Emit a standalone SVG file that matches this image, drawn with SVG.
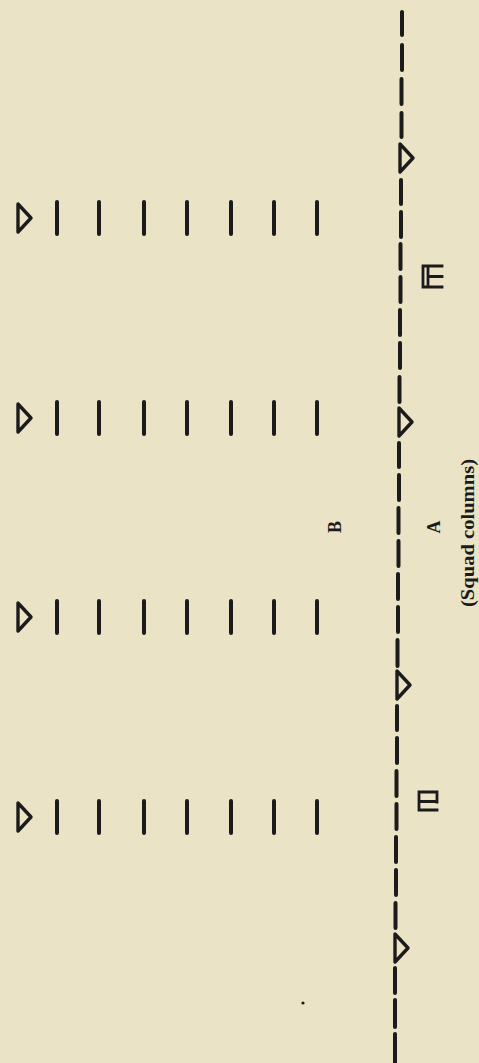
<svg xmlns="http://www.w3.org/2000/svg" width="479" height="1063" viewBox="0 0 479 1063">
<style>
.ink{stroke:#1b1b1b;stroke-width:4;stroke-linecap:round;fill:none}
.tri{stroke:#1b1b1b;stroke-width:3.4;stroke-linejoin:round;fill:none}
.sym{stroke:#1b1b1b;stroke-width:2.8;fill:none;stroke-linecap:square}
.lbl{font-family:"Liberation Serif",serif;font-weight:bold;fill:#1b1b1b}
</style>
<defs>
<path id="tr" d="M0,-14 L13,0 L0,14 Z"/>
<g id="col">
<use href="#tr" class="tri" x="18" y="0"/>
<path class="ink" d="M57,-16v32M99,-16v32M144,-16v32M187,-16v32M231,-16v32M274,-16v32M317,-16v32"/>
</g>
</defs>
<rect width="479" height="1063" fill="#ebe3c6"/>
<g id="column1" transform="translate(0,218)"><use href="#col"/></g>
<g id="column2" transform="translate(0,418)"><use href="#col"/></g>
<g id="column3" transform="translate(0,617)"><use href="#col"/></g>
<g id="column4" transform="translate(0,817)"><use href="#col"/></g>
<g id="connectors">
<path class="ink" d="M402,12v23M402,45v25M401.5,79v25M401.5,113v24
M401,180v24M401,212v25M400.5,244v25M400.5,277v25M400,310v25M400,343v25M399.5,377v25
M399,443v24M399,475v25M398.5,508v25M398.5,541v25M398,574v25M398,607v25M397.5,640v26
M397,706v24M397,738v25M396.5,771v25M396.5,804v25M396,837v25M396,870v25M395.5,903v25
M395,968v25M395,1000v27M395,1034v30"/>
</g>
<g id="guide1"><use href="#tr" class="tri" x="400" y="158"/></g>
<g id="guide2"><use href="#tr" class="tri" x="399" y="422"/></g>
<g id="guide3"><use href="#tr" class="tri" x="397" y="685"/></g>
<g id="guide4"><use href="#tr" class="tri" x="395" y="948"/></g>
<g id="leader1"><path class="sym" d="M423,266v21M428,266v21M423,266h19M423,287h19M428,276.5h14"/></g>
<g id="leader2"><path class="sym" d="M419,792v18M419,792h18v10M419,801.5h18M419,810h18"/></g>
<g id="labelB"><text class="lbl" font-size="18" transform="translate(341,527) rotate(-90)" text-anchor="middle">B</text></g>
<g id="labelA"><text class="lbl" font-size="18" transform="translate(440,527) rotate(-90)" text-anchor="middle">A</text></g>
<g id="caption"><text class="lbl" font-size="18" transform="translate(474,533) rotate(-90)" text-anchor="middle" textLength="148" lengthAdjust="spacingAndGlyphs">(Squad columns)</text></g>
<circle cx="303" cy="1003" r="1.6" fill="#1b1b1b"/>
</svg>
